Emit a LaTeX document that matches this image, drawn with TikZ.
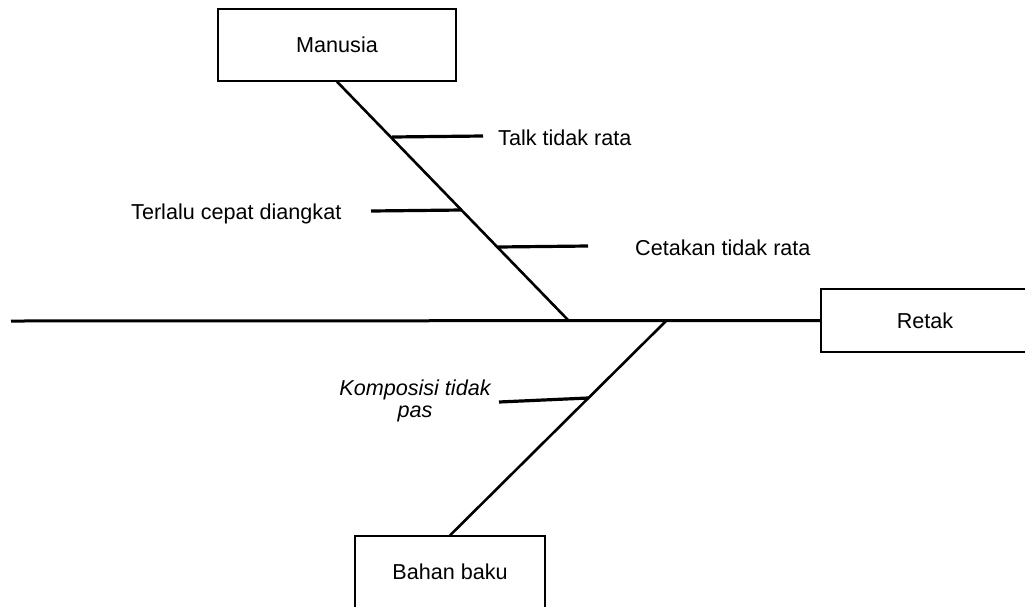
\documentclass[tikz,border=0pt]{standalone}
\usepackage{fontspec}
\setmainfont{Liberation Sans}
\begin{document}
\begin{tikzpicture}[x=1pt,y=-1pt,
  every node/.style={font=\fontsize{21.6}{26}\selectfont, inner sep=0pt},
  box/.style={draw, line width=1.3pt, rectangle},
  bone/.style={line width=3pt},
  rib/.style={line width=3.2pt},
  lbl/.style={anchor=base west}]
\useasboundingbox (0,0) rectangle (1025,606);
\clip (0,0) rectangle (1025,606);
% boxes
\node[box, minimum width=238pt, minimum height=72pt] (manusia) at (337,45) {Manusia};
\node[box, minimum width=208pt, minimum height=63pt] (retak) at (925,320.5) {Retak};
\node[box, minimum width=190pt, minimum height=72pt] (bahan) at (450,572) {Bahan baku};
% spine
\coordinate (tail) at (11,321);
\coordinate (j1) at (569,321);
\coordinate (j2) at (666,321);
\draw[bone] (tail) -- (retak.west);
% main bones
\draw[line width=2.6pt] (manusia.south) -- (j1);
\draw[line width=2.6pt] (bahan.north) -- (j2);
% rib points
\coordinate (t1) at (392,137);
\coordinate (t2) at (483,136);
\coordinate (d1) at (371,211);
\coordinate (d2) at (462,210);
\coordinate (c1) at (498,247);
\coordinate (c2) at (588,246);
\coordinate (k1) at (499,402);
\coordinate (k2) at (588,398);
\draw[rib] (t1) -- (t2);
\draw[rib] (d1) -- (d2);
\draw[rib] (c1) -- (c2);
\draw[rib] (k1) -- (k2);
% labels
\node[lbl] (ltalk) at (498,145) {Talk tidak rata};
\node[lbl] (lterl) at (131,219) {Terlalu cepat diangkat};
\node[lbl] (lcet) at (635,255) {Cetakan tidak rata};
\node[anchor=base, align=center, font=\fontsize{21.6}{22}\selectfont\itshape] (lkomp) at (415,417) {Komposisi tidak\\pas};
\end{tikzpicture}
\end{document}
